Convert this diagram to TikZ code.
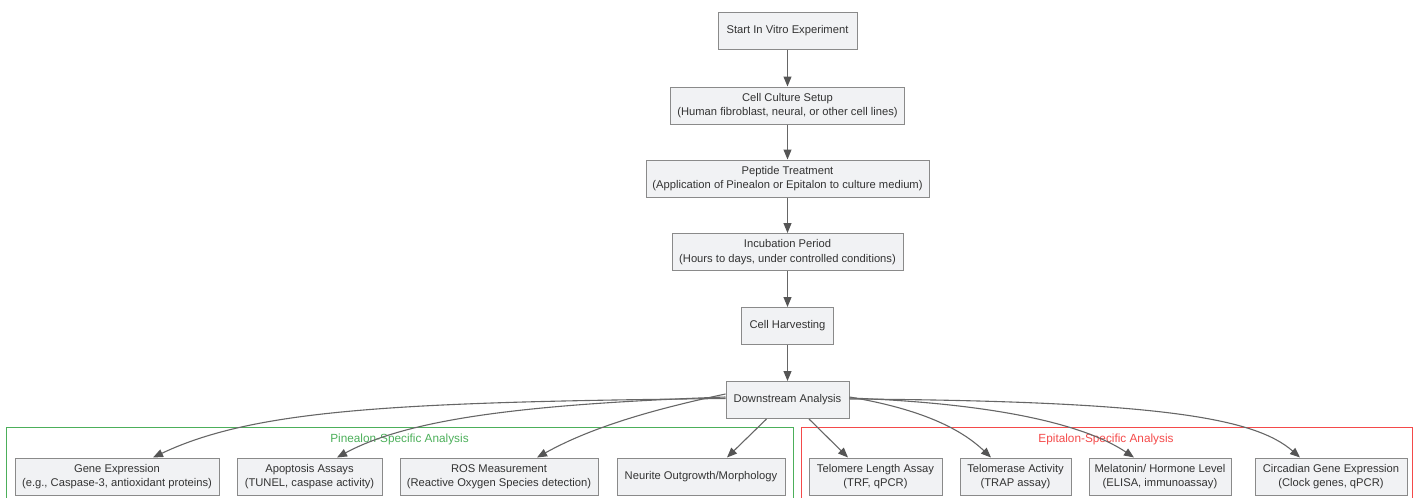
\documentclass[tikz,border=0pt]{standalone}
\usepackage{fontspec}
\setmainfont{Liberation Sans}
\usetikzlibrary{arrows.meta}
\definecolor{boxfill}{HTML}{F1F2F4}
\definecolor{boxline}{HTML}{8A8A8A}
\definecolor{edgecol}{HTML}{666666}
\definecolor{tipcol}{HTML}{555555}
\definecolor{pgreen}{HTML}{4CAF5A}
\definecolor{ered}{HTML}{F44A4A}
\definecolor{txt}{HTML}{333333}
\tikzset{
  box/.style={draw=boxline, fill=boxfill, line width=1pt, inner sep=0pt,
    minimum height=37pt, align=center, text=txt,
    font=\fontsize{11.2}{14.3}\selectfont},
  conn/.style={draw=edgecol, line width=1.1pt,
    -{Triangle[length=10pt,width=8pt,fill=tipcol,color=tipcol]}},
  clus/.style={line width=1pt},
  cluslabel/.style={font=\fontsize{11.8}{14}\selectfont, inner sep=0pt}
}
\begin{document}
\begin{tikzpicture}[x=1pt,y=-1pt]
\useasboundingbox (0,0) rectangle (1417,498);
\begin{scope}
\clip (0,0) rectangle (1417,498);
\draw[clus, draw=pgreen] (6,427) rectangle (793,520);
\draw[clus, draw=ered] (801,427) rectangle (1412,520);
\end{scope}
\node[cluslabel, text=pgreen] (plab) at (399.5,439) {Pinealon-Specific Analysis};
\node[cluslabel, text=ered] (elab) at (1106,439) {Epitalon-Specific Analysis};

\node[box, minimum width=139pt] (start) at (787.5,30.5) {Start In Vitro Experiment};
\node[box, minimum width=234pt] (culture) at (787.5,105.5) {Cell Culture Setup\\(Human fibroblast, neural, or other cell lines)};
\node[box, minimum width=283pt] (pept) at (787.5,178.5) {Peptide Treatment\\(Application of Pinealon or Epitalon to culture medium)};
\node[box, minimum width=231pt] (incub) at (787.5,252) {Incubation Period\\(Hours to days, under controlled conditions)};
\node[box, minimum width=92pt] (harv) at (787.5,326) {Cell Harvesting};
\node[box, minimum width=123pt] (ds) at (787.5,400) {Downstream Analysis};

\node[box, minimum width=204pt] (gene) at (117,476.5) {Gene Expression\\(e.g., Caspase-3, antioxidant proteins)};
\node[box, minimum width=145pt] (apop) at (309.5,476.5) {Apoptosis Assays\\(TUNEL, caspase activity)};
\node[box, minimum width=198pt] (ros) at (499,476.5) {ROS Measurement\\(Reactive Oxygen Species detection)};
\node[box, minimum width=168pt] (neur) at (701,476.5) {Neurite Outgrowth/Morphology};
\node[box, minimum width=133pt] (tlen) at (875.5,476.5) {Telomere Length Assay\\(TRF, qPCR)};
\node[box, minimum width=111pt] (tase) at (1015.5,476.5) {Telomerase Activity\\(TRAP assay)};
\node[box, minimum width=142pt] (mel) at (1160,476.5) {Melatonin/ Hormone Level\\(ELISA, immunoassay)};
\node[box, minimum width=152pt] (circ) at (1331,476.5) {Circadian Gene Expression\\(Clock genes, qPCR)};

\draw[conn] (start.south) -- (culture.north);
\draw[conn] (culture.south) -- (pept.north);
\draw[conn] (pept.south) -- (incub.north);
\draw[conn] (incub.south) -- (harv.north);
\draw[conn] (harv.south) -- (ds.north);

\draw[conn] ([yshift=1.5pt]ds.west) .. controls (400,402) and (255,409) .. ([xshift=36pt]gene.north);
\draw[conn] ([yshift=3pt]ds.west) .. controls (530,404) and (410,418) .. ([xshift=27.5pt]apop.north);
\draw[conn] ([yshift=6pt]ds.west) .. controls (650,410) and (590,428) .. ([xshift=38pt]ros.north);
\draw[conn] ([xshift=-21pt]ds.south) -- ([xshift=26pt]neur.north);
\draw[conn] ([xshift=21.5pt]ds.south) -- ([xshift=-27.5pt]tlen.north);
\draw[conn] ([yshift=3pt]ds.east) .. controls (920,409) and (960,428) .. ([xshift=-24.5pt]tase.north);
\draw[conn] ([yshift=2pt]ds.east) .. controls (1010,404) and (1090,428) .. ([xshift=-26pt]mel.north);
\draw[conn] ([yshift=1pt]ds.east) .. controls (1160,401) and (1255,418) .. ([xshift=-31pt]circ.north);
\end{tikzpicture}
\end{document}
